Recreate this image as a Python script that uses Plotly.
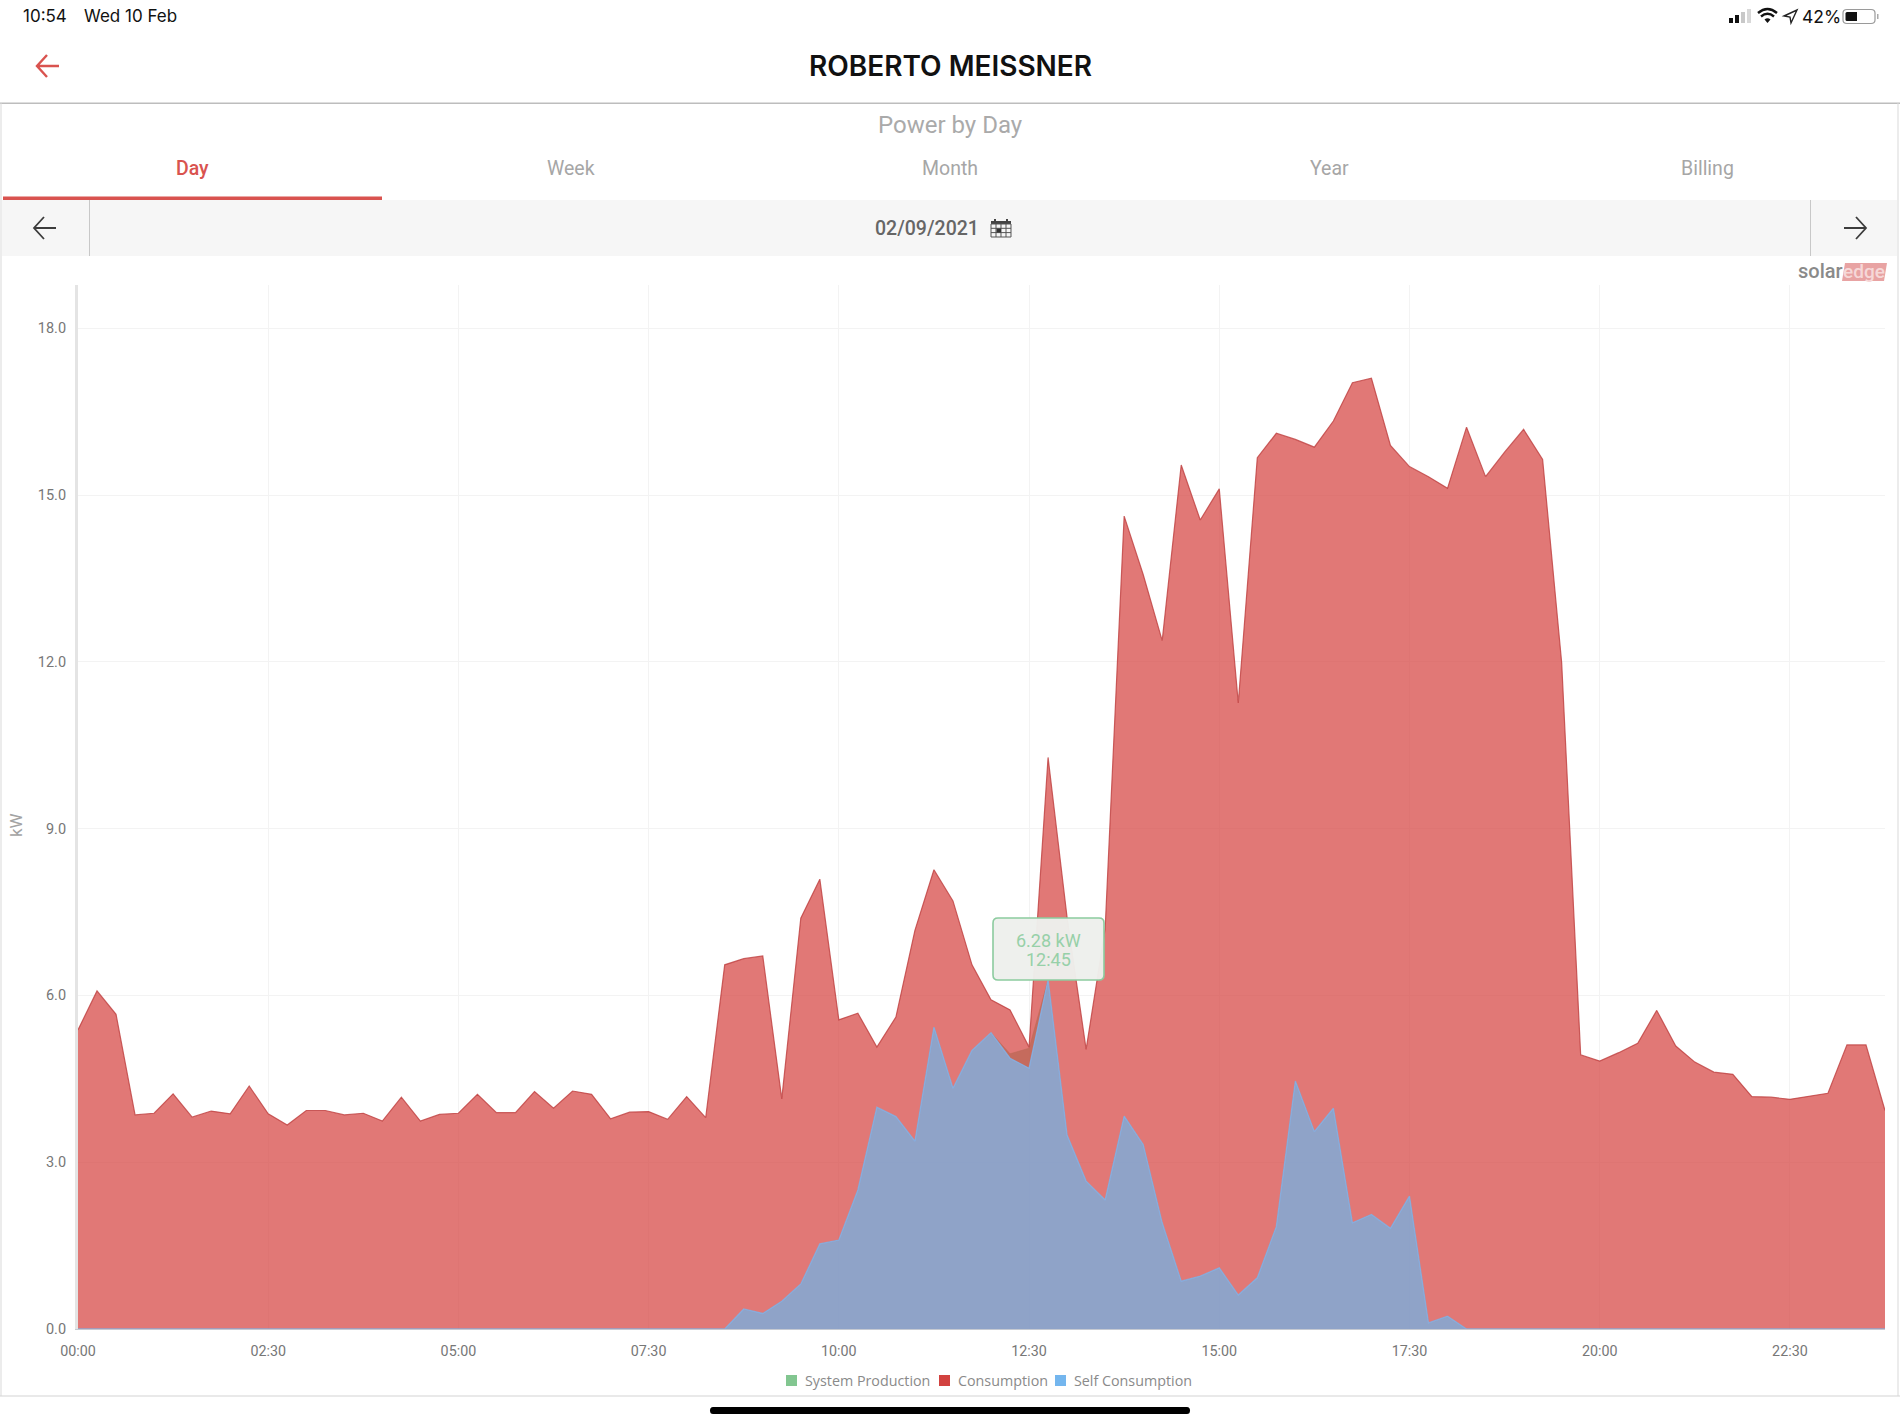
import re
import pandas as pd
import plotly.graph_objects as go

W, H = 1900, 1425

# Fifteen-minute readings for 9 Feb 2021, in kW
times = pd.date_range("2021-02-09 00:00", periods=96, freq="15min").strftime("%Y-%m-%d %H:%M").tolist()

consumption = [
    5.38, 6.08, 5.66, 3.85, 3.88, 4.23, 3.81, 3.92, 3.87, 4.37, 3.87, 3.67,
    3.93, 3.93, 3.85, 3.88, 3.74, 4.17, 3.74, 3.86, 3.88, 4.22, 3.89, 3.89,
    4.27, 3.97, 4.28, 4.22, 3.78, 3.90, 3.91, 3.77, 4.18, 3.80, 6.55, 6.66,
    6.71, 4.14, 7.39, 8.09, 5.56, 5.68, 5.07, 5.61, 7.17, 8.26, 7.70, 6.55,
    5.92, 5.74, 5.07, 10.28, 7.40, 5.03, 7.20, 14.62, 13.57, 12.38, 15.54, 14.55,
    15.11, 11.26, 15.67, 16.11, 16.00, 15.86, 16.33, 17.02, 17.10, 15.89, 15.51, 15.33,
    15.12, 16.22, 15.33, 15.77, 16.18, 15.64, 11.99, 4.93, 4.82, 4.97, 5.14, 5.73,
    5.09, 4.80, 4.62, 4.58, 4.18, 4.17, 4.13, 4.18, 4.24, 5.11, 5.11, 3.93,
]

self_consumption = [0.0] * 34 + [
    0.0, 0.36, 0.28, 0.50, 0.81, 1.53, 1.60, 2.50, 3.99, 3.82, 3.38, 5.43,
    4.33, 5.01, 5.33, 4.87, 4.69, 6.28, 3.49, 2.66, 2.32, 3.83, 3.32, 1.91,
    0.86, 0.95, 1.10, 0.61, 0.92, 1.84, 4.46, 3.55, 3.97, 1.91, 2.06, 1.81,
    2.39, 0.11, 0.23, 0.0,
] + [0.0] * 22

system_production = [0.0] * 34 + [
    0.0, 0.36, 0.28, 0.50, 0.81, 1.53, 1.60, 2.50, 3.99, 3.82, 3.38, 5.43,
    4.33, 5.01, 5.33, 4.95, 5.05, 6.28, 3.49, 2.66, 2.32, 3.83, 3.32, 1.91,
    0.86, 0.95, 1.10, 0.61, 0.92, 1.84, 4.46, 3.55, 3.97, 1.91, 2.06, 1.81,
    2.39, 0.11, 0.23, 0.0,
] + [0.0] * 22

y_ticks = [0, 3, 6, 9, 12, 15, 18]
tabs = ["Day", "Week", "Month", "Year", "Billing"]
tab_centres = [192, 571, 950, 1329, 1707]
PEAK = 51

PLOT_L, PLOT_R, PLOT_T, PLOT_B = 78, 1885, 285, 1329
UNIT = 55.6

RED = "#d9534f"
GRAY = "#a3a3a3"
DARK = "#3c3c3c"


def fx(x):
    return x / W


def fy(y):
    return 1 - y / H


def path(spec):
    """Convert an SVG path in page pixels to paper coordinates."""
    out, is_x = [], True
    for tok in re.findall(r"[A-Za-z]|-?[\d.]+", spec):
        if tok.isalpha():
            out.append(tok)
            is_x = True
        else:
            v = float(tok)
            out.append(f"{fx(v):.6f}" if is_x else f"{fy(v):.6f}")
            is_x = not is_x
    return " ".join(out)


shapes, notes = [], []


def rect(x0, y0, x1, y1, fill, layer="above"):
    shapes.append(dict(type="rect", xref="paper", yref="paper", x0=fx(x0), x1=fx(x1),
                       y0=fy(y0), y1=fy(y1), fillcolor=fill, line_width=0, layer=layer))


def stroke(spec, color, width=2, fill=None):
    shapes.append(dict(type="path", xref="paper", yref="paper", path=path(spec),
                       line=dict(color=color, width=width),
                       fillcolor=fill or "rgba(0,0,0,0)", layer="above"))


def solid(spec, color):
    shapes.append(dict(type="path", xref="paper", yref="paper", path=path(spec),
                       line_width=0, fillcolor=color, layer="above"))


def text(x, y, s, size, color, anchor="center", family="Inter", weight=400, **kw):
    notes.append(dict(xref="paper", yref="paper", x=fx(x), y=fy(y), text=s, showarrow=False,
                      xanchor=anchor, yanchor="middle",
                      font=dict(size=size, color=color, family=family, weight=weight), **kw))


def arrow_left(x0, x1, y, color, width=2):
    stroke(f"M {x1} {y} L {x0} {y} M {x0 + 10} {y - 11} L {x0} {y} L {x0 + 10} {y + 11}", color, width)


def arrow_right(x0, x1, y, color, width=2):
    stroke(f"M {x0} {y} L {x1} {y} M {x1 - 10} {y - 11} L {x1} {y} L {x1 - 10} {y + 11}", color, width)


# Status bar
text(21, 16, "10:54", 17, "#111111", anchor="left")
text(82, 16, "Wed 10 Feb", 17, "#111111", anchor="left")
rect(1729, 18, 1733, 23, "#111111")
rect(1735, 15, 1739, 23, "#111111")
rect(1741, 12, 1745, 23, "#c8c8c8")
rect(1747, 9, 1751, 23, "#d8d8d8")
stroke("M 1758 13 Q 1767.5 5 1777 13", "#111111", 2.4)
stroke("M 1761 16.5 Q 1767.5 11 1774 16.5", "#111111", 2.4)
solid("M 1764.5 19.5 Q 1767.5 17 1770.5 19.5 L 1767.5 23 Z", "#111111")
stroke("M 1784 16 L 1797 10 L 1791 23 L 1790 17 Z", "#222222", 1.4)
text(1821, 17, "42%", 17.5, "#111111")
stroke("M 1847 9.5 L 1871 9.5 Q 1875 9.5 1875 13 L 1875 20 Q 1875 23.5 1871 23.5 L 1847 23.5 "
       "Q 1843 23.5 1843 20 L 1843 13 Q 1843 9.5 1847 9.5 Z", "#9a9a9a", 1.2)
solid("M 1847 12 L 1857 12 L 1857 21 L 1847 21 Q 1845.5 21 1845.5 19.5 L 1845.5 13.5 Q 1845.5 12 1847 12 Z", "#111111")
rect(1877, 14, 1878.5, 19, "#aaaaaa")

# Page header
arrow_left(37, 59, 66, RED, 2.4)
text(950, 66, "ROBERTO MEISSNER", 28, "#111111", weight=600)

# Card outline
rect(0, 102.5, W, 104, "#bdbdbd")
rect(0.5, 103, 1.5, 1396, "#d9d9d9")
rect(1897.5, 103, 1898.5, 1396, "#d9d9d9")
rect(0, 1395.5, W, 1396.5, "#d4d4d4")

text(950, 125, "Power by Day", 24, "#aaaaaa", family="Roboto")
for name, cx in zip(tabs, tab_centres):
    text(cx, 169, name, 19.5, RED if name == "Day" else "#a6a6a6", family="Roboto",
         weight=500 if name == "Day" else 400)
rect(3, 196.5, 382, 200, RED)

# Date selector bar
rect(2, 200, 1897, 256, "#f6f6f6", layer="below")
rect(89, 200, 90, 256, "#c8c8c8")
rect(1810, 200, 1811, 256, "#c8c8c8")
arrow_left(34, 56, 228, DARK, 1.8)
arrow_right(1844, 1866, 228, DARK, 1.8)
text(927, 228, "02/09/2021", 19.5, "#666666", family="Roboto", weight=500)
rect(991, 221, 1011, 224, "#444444")
rect(994, 219, 996, 223, "#444444")
rect(1006, 219, 1008, 223, "#444444")
stroke("M 991 224 L 1011 224 L 1011 237 L 991 237 Z "
       "M 991 228.3 L 1011 228.3 M 991 232.6 L 1011 232.6 "
       "M 996 224 L 996 237 M 1001 224 L 1001 237 M 1006 224 L 1006 237", "#555555", 1)
rect(996.5, 228.5, 1001, 232.5, "#333333")

# Brand mark
text(1796, 271, "solar", 20, "#8a8a8a", anchor="left", family="Roboto", weight=500)
solid("M 1845 263 L 1887 263 L 1884 281 L 1842 281 Z", "#e8a3a3")
text(1864, 271, "edge", 19, "#f6d8d8", family="Roboto", weight=500)

# Axis unit
text(16, 825, "kW", 17, GRAY, family="Roboto", textangle=-90)

# Tooltip for the midday peak
tip_l, tip_r, tip_t, tip_b = 993, 1104, 918, 980
stroke(f"M {tip_l + 5} {tip_t} L {tip_r - 5} {tip_t} Q {tip_r} {tip_t} {tip_r} {tip_t + 5} "
       f"L {tip_r} {tip_b - 5} Q {tip_r} {tip_b} {tip_r - 5} {tip_b} L {tip_l + 5} {tip_b} "
       f"Q {tip_l} {tip_b} {tip_l} {tip_b - 5} L {tip_l} {tip_t + 5} Q {tip_l} {tip_t} {tip_l + 5} {tip_t} Z",
       "#8ccb9f", 1.6, fill="rgba(237,239,236,0.97)")
text(1048, 940, f"{system_production[PEAK]:.2f} kW", 18, "#97d0a8", family="Roboto")
text(1048, 959, times[PEAK][-5:], 18, "#97d0a8", family="Roboto")

# Legend row
legend_items = [
    ("System Production", "#82c690", 786, 803),
    ("Consumption", "#d2423f", 939, 956),
    ("Self Consumption", "#74b6ee", 1055, 1072),
]
for label, colour, swatch_x, label_x in legend_items:
    rect(swatch_x, 1375, swatch_x + 11, 1386, colour)
    text(label_x, 1380, label, 14.3, "#8a8a8a", anchor="left", family="Open Sans")

# Home indicator
solid("M 713 1407 L 1187 1407 Q 1190 1407 1190 1410.5 Q 1190 1414 1187 1414 L 713 1414 "
      "Q 710 1414 710 1410.5 Q 710 1407 713 1407 Z", "#000000")

fig = go.Figure()
fig.add_trace(go.Scatter(x=times, y=system_production, name="System Production", mode="lines",
                         fill="tozeroy", fillcolor="rgba(130,198,144,0.75)",
                         line=dict(color="rgba(130,198,144,0.5)", width=1)))
fig.add_trace(go.Scatter(x=times, y=consumption, name="Consumption", mode="lines",
                         fill="tozeroy", fillcolor="rgba(212,62,60,0.70)",
                         line=dict(color="rgba(190,62,62,0.8)", width=1.2)))
fig.add_trace(go.Scatter(x=times, y=self_consumption, name="Self Consumption", mode="lines",
                         fill="tozeroy", fillcolor="rgba(124,181,236,0.75)",
                         line=dict(color="rgba(130,180,235,0.8)", width=1.3)))

fig.update_layout(
    width=W, height=H, margin=dict(l=0, r=0, t=0, b=0), autosize=False,
    paper_bgcolor="white", plot_bgcolor="white", showlegend=False, hovermode=False,
    shapes=shapes, annotations=notes,
    xaxis=dict(domain=[fx(PLOT_L), fx(PLOT_R)], type="date", range=[times[0], times[-1]],
               automargin=False,
               tick0=times[0], dtick=150 * 60 * 1000, tickformat="%H:%M",
               showgrid=True, gridcolor="#f3f3f3", gridwidth=1.3, zeroline=False,
               showline=True, linecolor="#c6cad2", linewidth=1,
               ticks="outside", ticklen=9, tickcolor="rgba(0,0,0,0)",
               tickfont=dict(family="Roboto", size=14.3, color="#777777")),
    yaxis=dict(domain=[fy(PLOT_B), fy(PLOT_T)], range=[0, (PLOT_B - PLOT_T) / UNIT],
               automargin=False,
               tickvals=y_ticks, tickformat=".1f",
               showgrid=True, gridcolor="#f3f3f3", gridwidth=1.3, zeroline=False,
               showline=True, linecolor="#e4e4e4", linewidth=3,
               ticks="outside", ticklen=6, tickcolor="rgba(0,0,0,0)",
               tickfont=dict(family="Roboto", size=14.5, color="#777777")),
)

fig.write_html("out.html")
